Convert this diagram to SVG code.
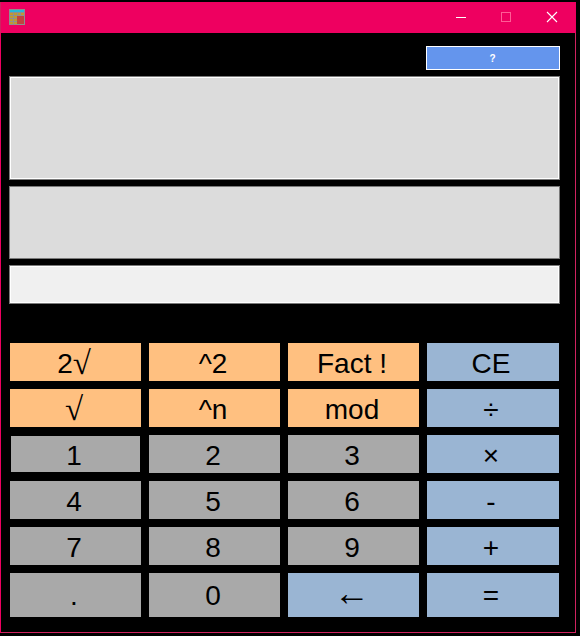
<svg xmlns="http://www.w3.org/2000/svg" width="580" height="636" viewBox="0 0 580 636">
<style>
.o{fill:#ffc080}.g{fill:#a9a9a9}.b{fill:#9ab5d3}
text{font-family:"Liberation Sans",Arial,sans-serif;font-size:28px;fill:#000;text-anchor:middle}
.r{font-family:"Liberation Serif","Times New Roman",serif;font-size:33px}
.a{font-family:"Liberation Serif","Times New Roman",serif;font-size:36px}
.c{fill:#c09a30}
</style>
<rect width="580" height="636" fill="#000"/>
<g id="window">
<rect x="0.500" y="2.500" width="575" height="630" fill="#000" stroke="#d0225f"/>
<rect x="1" y="2" width="575" height="31" fill="#ee0060"/>
<rect x="0" y="33" width="1" height="600" fill="#ee0060"/>
</g>
<g id="app-icon">
<rect x="9" y="9" width="16" height="16" fill="#8f8f8e"/>
<rect x="10" y="10" width="14" height="2" fill="#27b9d8"/>
<rect class="c" x="10" y="13" width="3" height="2"/><rect class="c" x="14" y="13" width="3" height="2"/><rect class="c" x="18" y="13" width="2" height="2"/><rect class="c" x="21" y="13" width="3" height="2"/>
<rect class="c" x="10" y="16" width="3" height="2"/><rect class="c" x="14" y="16" width="3" height="2"/>
<rect class="c" x="10" y="19" width="3" height="2"/><rect class="c" x="14" y="19" width="3" height="2"/>
<rect class="c" x="10" y="22" width="3" height="2"/><rect class="c" x="14" y="22" width="3" height="2"/>
<rect x="17" y="16" width="7" height="8" fill="#c0443f"/>
</g>
<g id="window-controls">
<path d="M456 17.500H466" stroke="#fff" stroke-width="1"/>
<rect x="501.500" y="12.500" width="9" height="9" fill="none" stroke="#ff5c95"/>
<path d="M547 12L557 22M557 12L547 22" stroke="#fff" stroke-width="1.100"/>
</g>
<g id="help">
<rect x="426.500" y="46.500" width="133" height="23" fill="#6495ed" stroke="#fff"/>
<text x="492.500" y="62" style="font-size:10px;font-weight:700;fill:#fff">?</text>
</g>
<g id="display-1">
<rect x="9.500" y="76.500" width="550" height="103" fill="#dcdcdc" stroke="#7a7a7a"/>
<rect x="10.500" y="77.500" width="548" height="101" fill="none" stroke="#fff"/>
</g>
<g id="display-2">
<rect x="9.500" y="186.500" width="550" height="72" fill="#dcdcdc" stroke="#7a7a7a"/>
</g>
<g id="display-3">
<rect x="9.500" y="265.500" width="550" height="38" fill="#f0f0f0" stroke="#7a7a7a"/>
<rect x="10.500" y="266.500" width="548" height="36" fill="none" stroke="#fff"/>
</g>
<g id="btn-sqrt2"><rect class="o" x="10" y="343" width="131" height="38"/><text x="74" y="373">2<tspan class="r" dy="1">√</tspan></text></g>
<g id="btn-pow2"><rect class="o" x="149" y="343" width="131" height="38"/><text x="213" y="373">^2</text></g>
<g id="btn-fact"><rect class="o" x="288" y="343" width="131" height="38"/><text x="352" y="373">Fact !</text></g>
<g id="btn-ce"><rect class="b" x="427" y="343" width="132" height="38"/><text x="491" y="373">CE</text></g>
<g id="btn-sqrt"><rect class="o" x="10" y="389" width="131" height="38"/><text class="r" x="74" y="420">√</text></g>
<g id="btn-pown"><rect class="o" x="149" y="389" width="131" height="38"/><text x="213" y="419">^n</text></g>
<g id="btn-mod"><rect class="o" x="288" y="389" width="131" height="38"/><text x="352" y="419">mod</text></g>
<g id="btn-div"><rect class="b" x="427" y="389" width="132" height="38"/><text x="491" y="419">÷</text></g>
<g id="btn-1"><rect class="g" x="11" y="436" width="129" height="36"/><text x="74" y="465">1</text></g>
<g id="btn-2"><rect class="g" x="149" y="435" width="131" height="38"/><text x="213" y="465">2</text></g>
<g id="btn-3"><rect class="g" x="288" y="435" width="131" height="38"/><text x="352" y="465">3</text></g>
<g id="btn-mul"><rect class="b" x="427" y="435" width="132" height="38"/><text x="491" y="465">×</text></g>
<g id="btn-4"><rect class="g" x="10" y="481" width="131" height="38"/><text x="74" y="511">4</text></g>
<g id="btn-5"><rect class="g" x="149" y="481" width="131" height="38"/><text x="213" y="511">5</text></g>
<g id="btn-6"><rect class="g" x="288" y="481" width="131" height="38"/><text x="352" y="511">6</text></g>
<g id="btn-sub"><rect class="b" x="427" y="481" width="132" height="38"/><text x="491" y="511">-</text></g>
<g id="btn-7"><rect class="g" x="10" y="527" width="131" height="38"/><text x="74" y="557">7</text></g>
<g id="btn-8"><rect class="g" x="149" y="527" width="131" height="38"/><text x="213" y="557">8</text></g>
<g id="btn-9"><rect class="g" x="288" y="527" width="131" height="38"/><text x="352" y="557">9</text></g>
<g id="btn-add"><rect class="b" x="427" y="527" width="132" height="38"/><text x="491" y="557">+</text></g>
<g id="btn-dot"><rect class="g" x="10" y="573" width="131" height="44"/><text x="74" y="605">.</text></g>
<g id="btn-0"><rect class="g" x="149" y="573" width="131" height="44"/><text x="213" y="605">0</text></g>
<g id="btn-back"><rect class="b" x="288" y="573" width="131" height="44"/><text class="a" x="352" y="605">←</text></g>
<g id="btn-eq"><rect class="b" x="427" y="573" width="132" height="44"/><text x="491" y="605">=</text></g>
</svg>
